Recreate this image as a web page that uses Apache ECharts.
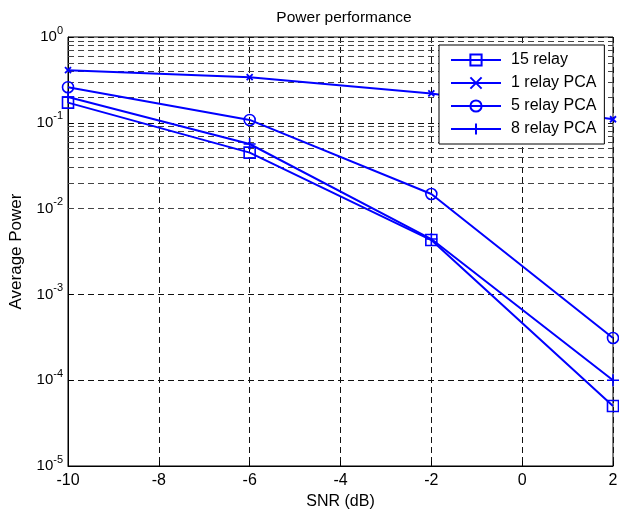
<!DOCTYPE html>
<html><head><meta charset="utf-8">
<script src="https://cdn.jsdelivr.net/npm/echarts@6/dist/echarts.min.js"></script>
<style>html,body{margin:0;padding:0;background:#fff}#c{width:619px;height:512px}</style>
</head><body><div id="c"></div>
<script>
const snr = [-10, -6, -2, 2];
const relay15 = [0.172, 0.0449, 0.0043, 5.0e-5];
const relay1PCA = [0.41, 0.34, 0.22, 0.11];
const relay5PCA = [0.26, 0.108, 0.0148, 3.1e-4];
const relay8PCA = [0.20, 0.0566, 0.00442, 1.0e-4];
const seriesNames = ['15 relay', '1 relay PCA', '5 relay PCA', '8 relay PCA'];
const xTicks = [-10, -8, -6, -4, -2, 0, 2];

const minorGrid = [];
for (let e = -5; e < 0; e++) for (let m = 2; m <= 9; m++) minorGrid.push(+(m * Math.pow(10, e)).toPrecision(3));

const FONT = 'Liberation Sans';
const BLUE = '#0000ff';
const pair = a => snr.map((x, i) => [x, a[i]]);

const chart = echarts.init(document.getElementById('c'));
const mk = (name, data, symbol, size, extra) => Object.assign({
  name, type: 'line', data: pair(data), symbol, symbolSize: size, color: BLUE,
  lineStyle: { color: BLUE, width: 2 },
  itemStyle: { color: 'rgba(255,255,255,0)', borderColor: BLUE, borderWidth: 1.6 },
  animation: false, z: 2
}, extra || {});

chart.setOption({
  animation: false,
  title: { text: 'Power performance', left: 339, top: 5, textAlign: 'center',
    textStyle: { fontFamily: FONT, fontSize: 15.5, fontWeight: 'normal', color: '#000' } },
  grid: { left: 68, right: 6, top: 37, bottom: 46, outerBoundsMode: 'none', containLabel: false,
    show: true, borderColor: '#000', borderWidth: 1, backgroundColor: '#fff' },
  legend: {
    orient: 'vertical', left: 439, top: 45, z: 10,
    backgroundColor: '#fff', borderColor: '#000', borderWidth: 1,
    padding: [7, 8, 7, 11], itemWidth: 50, itemHeight: 14, itemGap: 7,
    textStyle: { fontFamily: FONT, fontSize: 16, color: '#000', padding: [0, 0, 0, 5] },
    data: seriesNames
  },
  xAxis: {
    type: 'value', min: -10, max: 2, interval: 2,
    name: 'SNR (dB)', nameLocation: 'middle', nameGap: 27,
    nameTextStyle: { fontFamily: FONT, fontSize: 16, color: '#000' },
    axisLine: { onZero: false, lineStyle: { color: '#000' } },
    axisTick: { inside: true, length: 5, lineStyle: { color: '#000' } },
    axisLabel: { fontFamily: FONT, fontSize: 16, color: '#000', margin: 7,
      formatter: v => xTicks.includes(v) ? String(v) : '' },
    splitLine: { show: true, lineStyle: { color: '#111', type: [6, 4], width: 1 } }
  },
  yAxis: {
    type: 'log', logBase: 10, min: 1e-5, max: 1, interval: 1,
    name: 'Average Power', nameLocation: 'middle', nameGap: 43, nameRotate: 90,
    nameTextStyle: { fontFamily: FONT, fontSize: 17, color: '#000' },
    axisLine: { onZero: false, lineStyle: { color: '#000' } },
    axisTick: { inside: true, length: 5, lineStyle: { color: '#000' } },
    axisLabel: {
      fontFamily: FONT, fontSize: 15, color: '#000', margin: 5,
      formatter: v => '{b|10}{s|' + Math.round(Math.log10(v)) + '}',
      rich: { b: { fontFamily: FONT, fontSize: 15, color: '#000' },
              s: { fontFamily: FONT, fontSize: 11, color: '#000', padding: [0, 0, 13, 0] } }
    },
    splitLine: { show: true, lineStyle: { color: '#111', type: [6, 4], width: 1 } }
  },
  series: [
    mk('15 relay', relay15, 'rect', 11, {
      markLine: {
        silent: true, symbol: ['none', 'none'], label: { show: false },
        lineStyle: { color: '#444', type: [6, 4], width: 1 },
        data: minorGrid.map(v => ({ yAxis: v })), z: 1
      }
    }),
    mk('1 relay PCA', relay1PCA, 'path://M0,0L10,10M10,0L0,10', 6, {
      itemStyle: { color: BLUE, borderColor: BLUE, borderWidth: 1.8 }
    }),
    mk('5 relay PCA', relay5PCA, 'circle', 11),
    mk('8 relay PCA', relay8PCA, 'path://M5,0L5,10M0,5L10,5', 12, {
      itemStyle: { color: BLUE, borderColor: BLUE, borderWidth: 1.6 }
    })
  ]
});
</script></body></html>
